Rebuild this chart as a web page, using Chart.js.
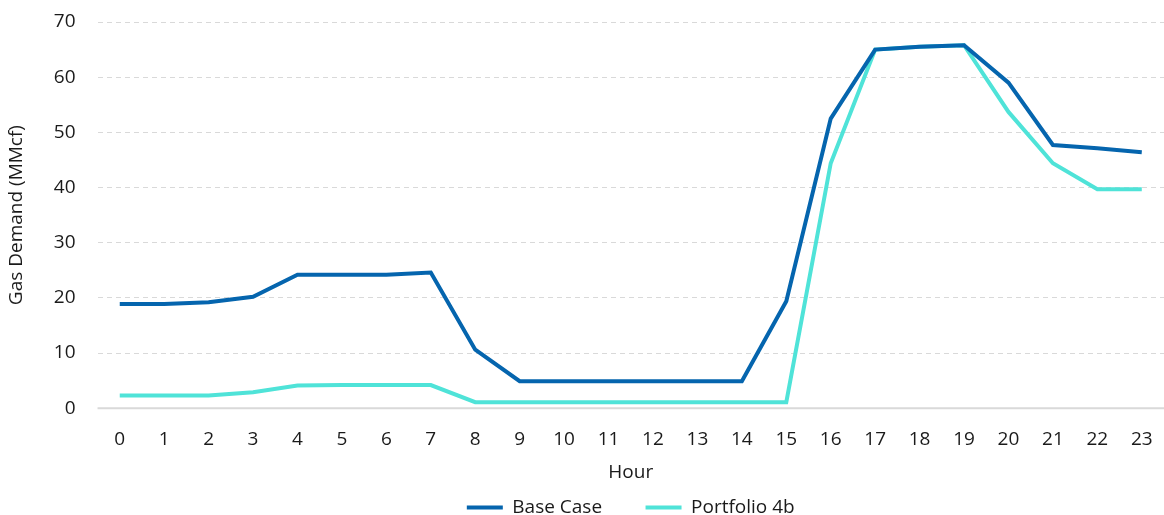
<!DOCTYPE html>
<html>
<head>
  <title>Gas Demand by Hour</title>
  <script src="https://cdn.jsdelivr.net/npm/chart.js"></script>
  <style>
    body { margin: 0; background: #fff; }
  </style>
</head>
<body>
  <canvas id="gasChart" width="1164" height="515"></canvas>
  <script>
    const hours = ["0","1","2","3","4","5","6","7","8","9","10","11","12","13","14","15","16","17","18","19","20","21","22","23"];
    const baseCase = [18.9, 18.9, 19.2, 20.2, 24.2, 24.2, 24.2, 24.6, 10.6, 4.9, 4.9, 4.9, 4.9, 4.9, 4.9, 19.4, 52.5, 65.0, 65.5, 65.8, 59.0, 47.7, 47.1, 46.4];
    const portfolio4b = [2.3, 2.3, 2.3, 2.9, 4.1, 4.2, 4.2, 4.2, 1.1, 1.1, 1.1, 1.1, 1.1, 1.1, 1.1, 1.1, 44.4, 65.0, 65.5, 65.8, 53.7, 44.4, 39.7, 39.7];

    const font = { family: "'Open Sans', sans-serif", size: 19 };
    const textColor = "#1a1a1a";

    const ctx = document.getElementById("gasChart").getContext("2d");
    new Chart(ctx, {
      type: "line",
      data: {
        labels: hours,
        datasets: [
          {
            label: "Base Case",
            data: baseCase,
            borderColor: "#0565AE",
            backgroundColor: "#0565AE",
            borderWidth: 4,
            pointRadius: 0,
            tension: 0
          },
          {
            label: "Portfolio 4b",
            data: portfolio4b,
            borderColor: "#4FE3D8",
            backgroundColor: "#4FE3D8",
            borderWidth: 4,
            pointRadius: 0,
            tension: 0
          }
        ]
      },
      options: {
        responsive: false,
        animation: false,
        layout: { padding: { top: 0, right: 0, left: 1, bottom: -12 } },
        plugins: {
          tooltip: { enabled: false },
          legend: {
            position: "bottom",
            fullSize: false,
            labels: {
              usePointStyle: true,
              pointStyle: "line",
              pointStyleWidth: 36,
              padding: 4,
              color: textColor,
              font: font,
              generateLabels(chart) {
                // extra trailing spaces widen the gap between legend entries
                const items = Chart.defaults.plugins.legend.labels.generateLabels(chart);
                items.forEach((it, i) => { if (i < items.length - 1) it.text += "        "; });
                return items;
              }
            }
          }
        },
        scales: {
          x: {
            offset: true,
            grid: { display: false, drawTicks: false },
            border: { display: false },
            ticks: { color: textColor, font: font, padding: 20, maxRotation: 0, autoSkip: false },
            title: { display: true, text: "Hour", color: textColor, font: { family: font.family, size: 19, lineHeight: 1 }, padding: { top: -8, bottom: 12 } },
            afterFit(scale) {
              // tick padding should not eat into the plot width
              scale.paddingLeft = 0;
              scale.paddingRight = 0;
            }
          },
          y: {
            min: 0,
            max: 70,
            ticks: { stepSize: 10, color: textColor, font: font, padding: 22 },
            grid: {
              drawTicks: false,
              color: "#D9D9D9",
              lineWidth: 1
            },
            border: { display: false, dash: [5, 4] },
            title: { display: true, text: "Gas Demand (MMcf)", color: textColor, font: { family: font.family, size: 19 }, padding: { bottom: 4 } },
            afterFit(scale) {
              scale.paddingTop = 22;
              scale.paddingBottom = 0;
            }
          }
        }
      },
      plugins: [{
        id: "zeroLine",
        afterDraw(chart) {
          const { ctx, chartArea, scales } = chart;
          const y0 = scales.y.getPixelForValue(0);
          ctx.save();
          ctx.strokeStyle = "#D9D9D9";
          ctx.lineWidth = 2;
          ctx.beginPath();
          ctx.moveTo(chartArea.left, y0);
          ctx.lineTo(chartArea.right, y0);
          ctx.stroke();
          ctx.restore();
        }
      }]
    });
  </script>
</body>
</html>
